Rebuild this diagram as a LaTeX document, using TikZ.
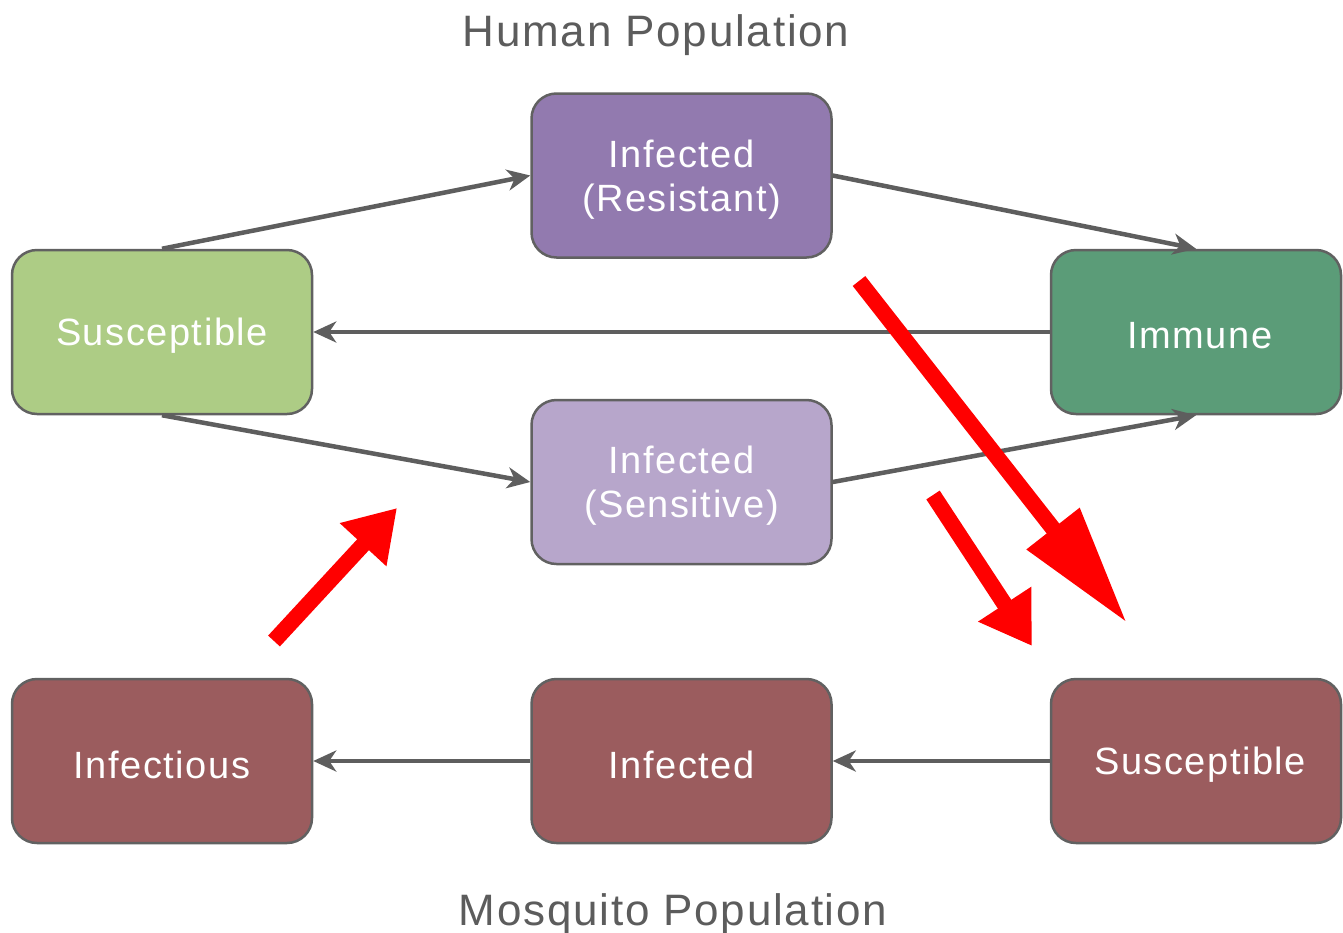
\documentclass[tikz,border=0pt]{standalone}
\usepackage{fontspec}
\setmainfont{Liberation Sans}
\newfontfamily\boxfont{Liberation Sans}[LetterSpace=4]
\newfontfamily\titlefont{Liberation Sans}[LetterSpace=4]
\usetikzlibrary{arrows.meta}
\definecolor{bordergray}{HTML}{616161}
\definecolor{conngray}{HTML}{5E5E5E}
\definecolor{titlegray}{HTML}{5C5C5C}
\definecolor{sgreen}{HTML}{ADCC85}
\definecolor{rpurple}{HTML}{927AAF}
\definecolor{spurple}{HTML}{B7A6CB}
\definecolor{igreen}{HTML}{5B9C78}
\definecolor{mred}{HTML}{9B5C5E}
\begin{document}
\begin{tikzpicture}[x=1pt,y=-1pt,
  box/.style={draw=bordergray, line width=2.5pt, rounded corners=25pt,
    minimum width=300pt, minimum height=164pt, inner sep=0pt},
  boxtext/.style={text=white, inner sep=0pt, align=center, yshift=-4pt,
    font=\boxfont\fontsize{38}{44}\selectfont},
  conn/.style={draw=conngray, line width=4.5pt,
    -{Stealth[length=23pt,width=21pt,inset=7pt]}},
  redarrow/.style={draw=red, line width=16pt},
  title/.style={text=titlegray, font=\titlefont\fontsize{44}{50}\selectfont, anchor=base, inner sep=0pt}]
\useasboundingbox (0,0) rectangle (1343,932);
\fill[white] (0,0) rectangle (1343,932);

\node[title] (ht) at (656,46) {Human Population};
\node[title] (mt) at (673,925) {Mosquito Population};

\node[box, fill=sgreen, label={[boxtext]center:Susceptible}] (hs) at (162,332) {};
\node[box, fill=rpurple, label={[boxtext]center:Infected\\(Resistant)}] (ir) at (681.5,175.5) {};
\node[box, fill=spurple, label={[boxtext]center:Infected\\(Sensitive)}] (is) at (681.5,482) {};
\node[box, fill=igreen, minimum width=290pt] (im) at (1196,332) {};
\node[boxtext] (imt) at (1200,332) {Immune};
\node[box, fill=mred, label={[boxtext]center:Infectious}] (mi) at (162,761) {};
\node[box, fill=mred, label={[boxtext]center:Infected}] (mf) at (681.5,761) {};
\node[box, fill=mred, minimum width=290pt] (ms) at (1196,761) {};
\node[boxtext] (mst) at (1200,761) {Susceptible};

\draw[conn] (hs.north) -- (ir.west);
\draw[conn] (ir.east) -- (im.north);
\draw[conn] (im.west) -- (hs.east);
\draw[conn] (hs.south) -- (is.west);
\draw[conn] (is.east) -- (im.south);
\draw[conn] (ms.west) -- (mf.east);
\draw[conn] (mf.west) -- (mi.east);

\coordinate (r1s) at (274,641);
\coordinate (r1e) at (397,508);
\coordinate (r2s) at (859,281);
\coordinate (r2e) at (1127,623);
\coordinate (r3s) at (933,495);
\coordinate (r3e) at (1032,646);
\draw[redarrow, -{Triangle[length=50pt,width=60pt]}] (r1s) -- (r1e);
\draw[redarrow, -{Triangle[length=120pt,width=63pt]}] (r2s) -- (r2e);
\draw[redarrow, -{Triangle[length=50pt,width=60pt]}] (r3s) -- (r3e);
\end{tikzpicture}
\end{document}
